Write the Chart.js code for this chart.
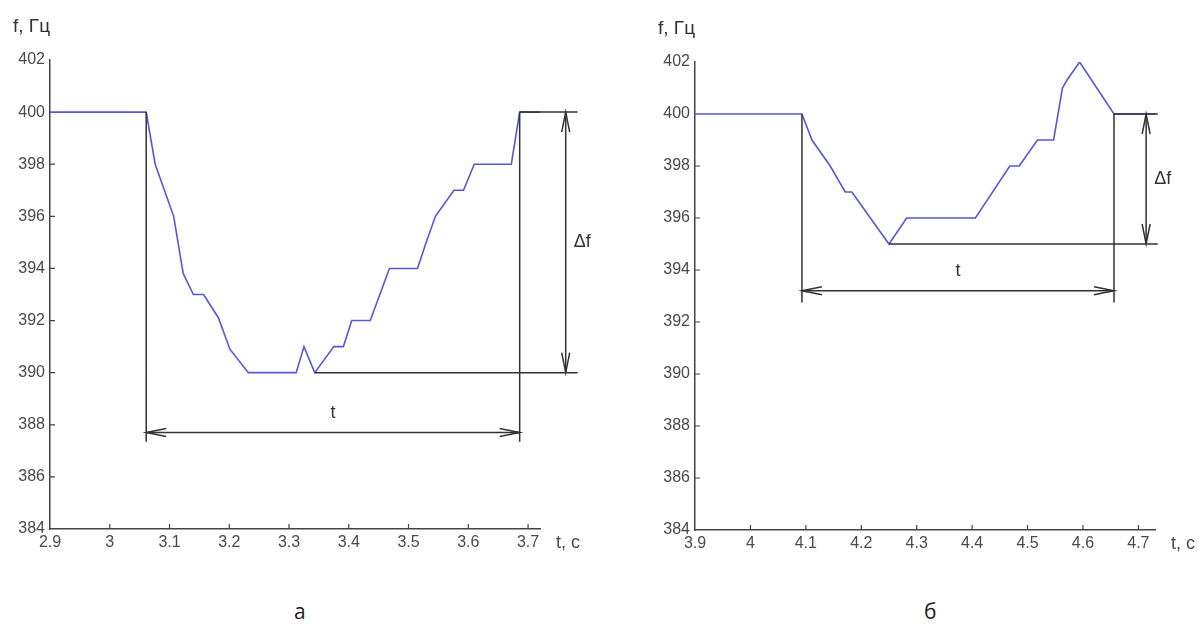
<!DOCTYPE html>
<html>
<head>
<meta charset="utf-8">
<script src="https://cdn.jsdelivr.net/npm/chart.js@4"></script>
<style>
body { margin: 0; background: #fff; width: 1198px; height: 628px; position: relative; overflow: hidden; }
canvas { position: absolute; top: 0; }
#chartA { left: 0; }
#chartB { left: 640px; }
.cap { position: absolute; top: 597px; font: 21px "Open Sans", sans-serif; color: #222; }
</style>
</head>
<body>
<canvas id="chartA" width="600" height="575"></canvas>
<canvas id="chartB" width="558" height="575"></canvas>
<div class="cap" style="left:294px">а</div>
<div class="cap" style="left:924px">б</div>
<script>
// chart a
let timeA = [2.9, 3.061, 3.076, 3.107, 3.123, 3.140, 3.157, 3.182, 3.201, 3.232, 3.312, 3.325, 3.343,
             3.375, 3.391, 3.405, 3.436, 3.468, 3.515, 3.528, 3.545, 3.576, 3.592, 3.610, 3.672, 3.686, 3.72];
let freqA = [400, 400, 398, 396, 393.8, 393, 393, 392.1, 390.9, 390, 390, 391, 390,
             391, 391, 392, 392, 394, 394, 394.9, 396, 397, 397, 398, 398, 400, 400];
let tickTimeA = [2.9, 3, 3.1, 3.2, 3.3, 3.4, 3.5, 3.6, 3.7];

// chart b
let timeB = [3.9, 4.093, 4.111, 4.144, 4.171, 4.183, 4.250, 4.282, 4.406, 4.468, 4.485, 4.518,
             4.547, 4.563, 4.571, 4.594, 4.656, 4.73];
let freqB = [400, 400, 399, 398, 397, 397, 395, 396, 396, 398, 398, 399,
             399, 401, 401.3, 402, 400, 400];
let tickTimeB = [3.9, 4, 4.1, 4.2, 4.3, 4.4, 4.5, 4.6, 4.7];

let tickFreq = [384, 386, 388, 390, 392, 394, 396, 398, 400, 402];

// dimension marks, in axis units: [t start, t end], [f top, f min], ...
let spanA = [3.061, 3.686], levelsA = [400, 390], minTimeA = 3.343;
let arrowFreqA = 387.7, lineBottomA = 387.35, rightEndA = 3.783, dfTimeA = 3.763;
let spanB = [4.093, 4.656], levelsB = [400, 395], minTimeB = 4.25;
let arrowFreqB = 393.2, lineBottomB = 392.75, rightEndB = 4.735, dfTimeB = 4.714;

const tickFont = { family: '"Liberation Sans", Arial, sans-serif', size: 16 };
const tickColor = '#4a4a4a';
const axisColor = '#444';

function arrowHead(ctx, x, y, dx, dy) {
    // open arrow, tip at (x, y), pointing along (dx, dy)
    const len = 20, half = 4;
    ctx.beginPath();
    ctx.moveTo(x - dx * len - dy * half, y - dy * len + dx * half);
    ctx.lineTo(x, y);
    ctx.lineTo(x - dx * len + dy * half, y - dy * len - dx * half);
    ctx.stroke();
}

function marksPlugin(m) {
    return {
        id: 'marks',
        afterDatasetsDraw(chart) {
            const ctx = chart.ctx, xs = chart.scales.x, ys = chart.scales.y, a = chart.chartArea;
            const X = v => xs.getPixelForValue(v), Y = v => ys.getPixelForValue(v);
            ctx.save();

            // inner tick marks
            ctx.strokeStyle = axisColor;
            ctx.lineWidth = 1.2;
            ctx.beginPath();
            m.xTicks.slice(1).forEach(v => { ctx.moveTo(X(v), a.bottom); ctx.lineTo(X(v), a.bottom - 5); });
            tickFreq.slice(1, -2).forEach(v => { ctx.moveTo(a.left, Y(v)); ctx.lineTo(a.left + 5, Y(v)); });
            ctx.stroke();

            // dimension lines
            ctx.strokeStyle = '#333';
            ctx.lineWidth = 1.5;
            ctx.beginPath();
            ctx.moveTo(X(m.span[0]), Y(m.levels[0])); ctx.lineTo(X(m.span[0]), Y(m.bottom));
            ctx.moveTo(X(m.span[1]), Y(m.levels[0])); ctx.lineTo(X(m.span[1]), Y(m.bottom));
            ctx.moveTo(X(m.minTime), Y(m.levels[1])); ctx.lineTo(X(m.rightEnd), Y(m.levels[1]));
            ctx.moveTo(X(m.span[1]), Y(m.levels[0])); ctx.lineTo(X(m.rightEnd), Y(m.levels[0]));
            // t arrow
            ctx.moveTo(X(m.span[0]), Y(m.arrowFreq)); ctx.lineTo(X(m.span[1]), Y(m.arrowFreq));
            // delta f arrow
            ctx.moveTo(X(m.dfTime), Y(m.levels[0])); ctx.lineTo(X(m.dfTime), Y(m.levels[1]));
            ctx.stroke();
            arrowHead(ctx, X(m.span[0]), Y(m.arrowFreq), -1, 0);
            arrowHead(ctx, X(m.span[1]), Y(m.arrowFreq), 1, 0);
            arrowHead(ctx, X(m.dfTime), Y(m.levels[0]), 0, -1);
            arrowHead(ctx, X(m.dfTime), Y(m.levels[1]), 0, 1);

            // labels
            ctx.fillStyle = '#333';
            ctx.font = '18px "Liberation Sans", Arial, sans-serif';
            ctx.textBaseline = 'middle';
            ctx.textAlign = 'center';
            ctx.fillText('t', (X(m.span[0]) + X(m.span[1])) / 2, Y(m.arrowFreq) - 20);
            ctx.textAlign = 'left';
            ctx.fillText('Δf', X(m.dfTime) + 8, (Y(m.levels[0]) + Y(m.levels[1])) / 2);

            // axis names
            ctx.font = '19px "Liberation Sans", Arial, sans-serif';
            ctx.fillText('f, Гц', a.left - 37, a.top - 33);
            ctx.font = '18px "Liberation Sans", Arial, sans-serif';
            ctx.fillStyle = tickColor;
            ctx.fillText('t, c', a.right + 16, a.bottom + 14);
            ctx.restore();
        }
    };
}

function makeChart(id, times, freqs, xTicks, pad, yWidth, xHeight, marks) {
    return new Chart(document.getElementById(id).getContext('2d'), {
        type: 'line',
        data: {
            datasets: [{
                data: times.map((t, i) => ({ x: t, y: freqs[i] })),
                borderColor: '#5757d9',
                borderWidth: 1.6,
                pointRadius: 0,
                tension: 0,
                fill: false
            }]
        },
        options: {
            responsive: false,
            animation: false,
            layout: { padding: pad },
            plugins: { legend: { display: false }, tooltip: { enabled: false } },
            scales: {
                x: {
                    type: 'linear',
                    min: xTicks[0],
                    max: times[times.length - 1],
                    afterBuildTicks: s => { s.ticks = xTicks.map(v => ({ value: v })); },
                    afterFit: s => { s.height = xHeight; },
                    grid: { display: false, drawTicks: false },
                    border: { display: true, color: axisColor, width: 1.5 },
                    ticks: {
                        font: tickFont, color: tickColor, padding: 4, maxRotation: 0, autoSkip: false,
                        callback: v => String(Number(v.toFixed(1)))
                    }
                },
                y: {
                    min: tickFreq[0],
                    max: tickFreq[tickFreq.length - 1],
                    afterBuildTicks: s => { s.ticks = tickFreq.map(v => ({ value: v })); },
                    afterFit: s => { s.width = yWidth; },
                    grid: { display: false, drawTicks: false },
                    border: { display: true, color: axisColor, width: 1.5 },
                    ticks: { font: tickFont, color: tickColor, padding: 5, autoSkip: false }
                }
            }
        },
        plugins: [marksPlugin(marks)]
    });
}

let chartA = makeChart('chartA', timeA, freqA, tickTimeA,
    { top: 60, right: 60, left: 0, bottom: 0 }, 50, 46,
    { xTicks: tickTimeA, span: spanA, levels: levelsA, minTime: minTimeA, arrowFreq: arrowFreqA,
      bottom: lineBottomA, rightEnd: rightEndA, dfTime: dfTimeA });

let chartB = makeChart('chartB', timeB, freqB, tickTimeB,
    { top: 62, right: 43, left: 0, bottom: 0 }, 55, 45,
    { xTicks: tickTimeB, span: spanB, levels: levelsB, minTime: minTimeB, arrowFreq: arrowFreqB,
      bottom: lineBottomB, rightEnd: rightEndB, dfTime: dfTimeB });
</script>
</body>
</html>
